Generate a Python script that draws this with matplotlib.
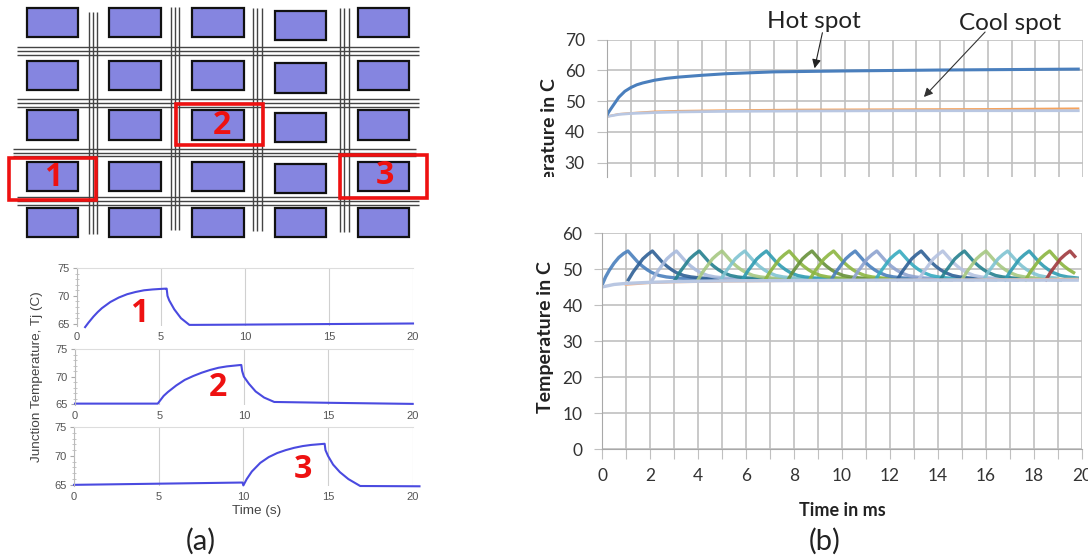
import matplotlib
matplotlib.use('Agg')
import matplotlib.pyplot as plt
from matplotlib.patches import Rectangle
from matplotlib.ticker import MultipleLocator

# (a) junction temperature traces
t1 = [0.5, 0.7, 1, 1.25, 1.5, 2, 2.5, 3, 3.5, 4, 4.5, 5, 5.3, 5.35, 5.4, 5.5, 5.8, 6.2, 6.7, 7, 10, 15, 20]
tj1 = [64.4, 65.2, 66.3, 67.1, 67.8, 68.9, 69.7, 70.3, 70.7, 71, 71.15, 71.25, 71.3, 71.3, 70, 69.2, 67.6, 66, 64.8, 64.8, 64.85, 64.95, 65.05]
t2 = [0, 4.9, 5, 5.25, 5.5, 6, 6.5, 7, 7.5, 8, 8.5, 9, 9.8, 9.85, 9.9, 10, 10.3, 10.7, 11.2, 11.8, 15, 20]
tj2 = [65.1, 65.1, 65.5, 66.5, 67.2, 68.4, 69.4, 70.1, 70.7, 71.2, 71.6, 71.85, 72.1, 72.1, 71, 70, 68.7, 67.3, 66.2, 65.4, 65.25, 65.05]
t3 = [0, 5, 9.95, 10, 10.2, 10.5, 11, 11.5, 12, 12.5, 13, 13.5, 14, 14.8, 14.85, 15, 15.3, 15.7, 16.2, 16.9, 20.4]
tj3 = [65, 65.2, 65.4, 64.9, 66, 67.3, 68.8, 69.8, 70.5, 71, 71.4, 71.7, 71.9, 72.1, 71, 70, 68.5, 67.2, 66, 64.8, 64.75]

# (b) top chart
t_top = [0, 0.1, 0.25, 0.5, 0.75, 1, 1.25, 1.5, 2, 2.5, 3, 4, 5, 7, 10, 14, 19.8]
hot_spot = [45.5, 46.8, 48.5, 51.3, 53.2, 54.4, 55.3, 55.9, 56.8, 57.4, 57.8, 58.4, 58.9, 59.5, 59.8, 60.1, 60.4]
t_cool = [0, 0.5, 1, 2, 3, 5, 8, 12, 16, 19.8]
cool_orange = [45, 45.8, 46.1, 46.6, 46.8, 47, 47.2, 47.3, 47.4, 47.6]
cool_lav = [45, 45.7, 46, 46.3, 46.5, 46.7, 46.8, 46.9, 46.9, 46.9]

# (b) bottom chart, the same pulse repeats at each peak time
peak_times = [1.08, 2.1, 3.1, 4.05, 5.0, 5.95, 6.85, 7.8, 8.75, 9.65, 10.55,
              11.45, 12.4, 13.3, 14.2, 15.1, 16.0, 16.9, 17.8, 18.65, 19.5]
pulse_dt = [-1.0, -0.8, -0.6, -0.4, -0.2, 0, 0.2, 0.4, 0.6, 0.8, 1, 1.3, 1.6, 2, 3, 4, 20]
pulse_temp = [47, 49.2, 51, 52.8, 54, 55, 53.5, 52, 50.8, 49.8, 49, 48.2, 47.8, 47.5, 47.2, 47, 47]
first_rise_t = [0, 0.15, 0.3, 0.5, 0.7, 0.9]
first_rise_temp = [45.5, 47.8, 49.6, 51.6, 53.2, 54.3]
pulse_colors = ['#4a80bd', '#2f6096', '#a9bbdd', '#24808f', '#a6c882', '#80c4d2', '#2f9cb2',
                '#8bb540', '#67913a', '#8db641', '#4a80bd', '#8ea3d0', '#37abc0', '#2f6096',
                '#b5c2e0', '#26818f', '#a6c882', '#80c4d2', '#2f9cb2', '#8bb540', '#a03a3e']

# schematic layout (a)
cols = [(26.7, 77.7), (109, 160.7), (192, 243.7), (275, 326), (358, 409)]
rows = [(8, 37), (61, 90), (110, 140), (162, 191), (208, 237)]
rows_col4 = [(11, 40), (63, 93), (113, 142), (164, 193), (208, 237)]
wires_v = [(88.5, 92.5, 96.5, 12, 234), (171, 175, 179, 7, 230), (253, 257, 262, 8, 231), (340, 344, 349, 8, 232)]
wires_h = [(47, 51, 54.5, 17, 419), (99, 103, 107, 17, 419), (149, 153, 156, 13, 416), (197, 201, 205, 17, 419)]
red_boxes = [(9, 158, 96, 200), (176, 104, 263, 145), (340, 155, 427, 198)]
red_labels = [('1', 53, 177), ('2', 222, 125), ('3', 385, 176)]

W, H = 1088, 559
fig = plt.figure(figsize=(W / 100, H / 100), dpi=100)
plt.rcParams['font.family'] = ['Lato', 'DejaVu Sans']


def add_px(left, top, right, bottom):
    return fig.add_axes([left / W, 1 - bottom / H, (right - left) / W, (bottom - top) / H])


bg = fig.add_axes([0, 0, 1, 1])
bg.set_xlim(0, W)
bg.set_ylim(H, 0)
bg.axis('off')

for c, (x0, x1) in enumerate(cols):
    for (y0, y1) in (rows_col4 if c == 3 else rows):
        bg.add_patch(Rectangle((x0, y0), x1 - x0, y1 - y0, fc='#8585e0', ec='#111111', lw=1.6, zorder=3))
for a, b, c, y0, y1 in wires_v:
    bg.vlines([a, b, c], y0, y1, color='#444444', lw=1.0, zorder=2)
for a, b, c, x0, x1 in wires_h:
    bg.hlines([a, b, c], x0, x1, color='#444444', lw=1.0, zorder=2)
for x0, y0, x1, y1 in red_boxes:
    bg.add_patch(Rectangle((x0, y0), x1 - x0, y1 - y0, fc='none', ec='#ee1111', lw=2.6, zorder=4))
for s, x, y in red_labels:
    bg.text(x, y, s, color='#ee1111', fontsize=23, fontweight='bold', ha='center', va='center',
            family=['Open Sans', 'DejaVu Sans'], zorder=5)

# small traces
panels = [((76.7, 268, 413, 326), t1, tj1, 64.6, '1', (139, 313)),
          ((75, 349, 412.7, 405), t2, tj2, 64.85, '2', (218, 388)),
          ((74, 427, 412.7, 486), t3, tj3, 64.8, '3', (303, 469))]
for (l, t, r, b), xs, ys, ymin, s, (lx, ly) in panels:
    ax = add_px(l, t, r, b)
    ax.patch.set_alpha(0)
    ax.plot(xs, ys, color='#4a4ae0', lw=1.5, clip_on=False)
    ax.set_xlim(0, 20)
    ax.set_ylim(ymin, 75)
    ax.set_xticks([0, 5, 10, 15, 20])
    ax.set_yticks([65, 70, 75])
    ax.yaxis.set_minor_locator(MultipleLocator(1))
    ax.grid(axis='x', color='#d0d0d0', lw=0.8)
    ax.tick_params(axis='x', length=0, labelsize=8, labelcolor='#555555', pad=4)
    ax.tick_params(axis='y', which='major', length=3, color='#aaaaaa', labelsize=8, labelcolor='#555555', pad=2)
    ax.tick_params(axis='y', which='minor', length=3, color='#bbbbbb', direction='inout')
    for lab in ax.get_xticklabels() + ax.get_yticklabels():
        lab.set_family(['Liberation Sans'])
    for name in ['right', 'bottom']:
        ax.spines[name].set_visible(False)
    ax.spines['left'].set_color('#bbbbbb')
    ax.spines['top'].set_color('#dddddd')
    bg.text(lx, ly, s, color='#ee1111', fontsize=23, fontweight='bold', ha='center', va='center',
            family=['Open Sans', 'DejaVu Sans'], zorder=5)

bg.text(37, 377, 'Junction Temperature, Tj (C)', rotation=90, color='#444444', fontsize=9.7,
        ha='center', va='center', family=['Liberation Sans'])
bg.text(257, 511, 'Time (s)', color='#444444', fontsize=9.7, ha='center', va='center', family=['Liberation Sans'])
bg.text(201, 541, '(a)', color='#222222', fontsize=21, ha='center', va='center')
bg.text(825, 541, '(b)', color='#222222', fontsize=21, ha='center', va='center')

# top chart
grid_grey = '#c0c0c0'
axis_grey = '#a8a8a8'
top = add_px(607, 39.5, 1083, 177)
top.patch.set_alpha(0)
top.plot(t_cool, cool_orange, color='#f5a35c', lw=1.6)
top.plot(t_cool, cool_lav, color='#b9c7e2', lw=2)
top.plot(t_top, hot_spot, color='#4a7fbd', lw=2.2)
top.set_xlim(0, 20)
top.set_ylim(25.4, 70)
top.set_xticks(range(0, 21))
top.set_yticks([30, 40, 50, 60, 70])
top.grid(color=grid_grey, lw=1.2)
top.set_axisbelow(True)
top.tick_params(axis='x', length=0, labelbottom=False)
top.tick_params(axis='y', length=7, color=grid_grey, labelsize=12.5, labelcolor='#333333', pad=9)
for name in ['right', 'bottom', 'top']:
    top.spines[name].set_visible(False)
top.spines['left'].set_color(axis_grey)

# bottom chart
low = add_px(602, 233, 1082, 449)
low.patch.set_alpha(0)
end_t = 19.8
for i, (pk, col) in enumerate(zip(peak_times, pulse_colors)):
    if i == 0:
        xs = first_rise_t + [pk + d for d in pulse_dt if d >= 0]
        ys = first_rise_temp + [v for d, v in zip(pulse_dt, pulse_temp) if d >= 0]
    else:
        xs = [pk + d for d in pulse_dt]
        ys = list(pulse_temp)
    keep = [(x, y) for x, y in zip(xs, ys) if x <= end_t]
    low.plot([p[0] for p in keep], [p[1] for p in keep], color=col, lw=2.4, alpha=0.9)
low.plot(t_cool[2:], [v - 0.4 for v in cool_orange[2:]], color='#f7b58a', lw=2)
low.plot(t_cool, cool_lav, color='#b9c7e2', lw=2.4)
low.set_xlim(0, 20)
low.set_ylim(0, 60)
low.set_xticks(range(0, 21))
low.set_xticklabels([str(v) if v % 2 == 0 else '' for v in range(0, 21)])
low.set_yticks(range(0, 61, 10))
low.grid(color=grid_grey, lw=1.2)
low.set_axisbelow(True)
low.tick_params(axis='x', length=7, color=grid_grey, labelsize=12.5, labelcolor='#333333', pad=7)
low.tick_params(axis='y', length=6, color=grid_grey, labelsize=12.5, labelcolor='#333333', pad=8)
for name in ['right', 'top']:
    low.spines[name].set_visible(False)
low.spines['left'].set_color(axis_grey)
low.spines['bottom'].set_color(axis_grey)

bg.text(546, 337, 'Temperature in C', rotation=90, fontsize=14, fontweight='bold', color='#222222',
        ha='center', va='center')
bg.text(842, 511, 'Time in ms', fontsize=13, fontweight='bold', color='#222222', ha='center', va='center')
cut = bg.text(550, 154, 'Temperature in C', rotation=90, fontsize=14, fontweight='bold', color='#222222',
              ha='center', va='center')
cut.set_clip_on(True)
cut.set_clip_path(Rectangle((530, 60), 40, 117, transform=bg.transData))

bg.text(814, 22, 'Hot spot', fontsize=17.5, color='#222222', ha='center', va='center')
bg.text(1010, 23, 'Cool spot', fontsize=17.5, color='#222222', ha='center', va='center')
arrow_bg = fig.add_axes([0, 0, 1, 1])
arrow_bg.set_xlim(0, W)
arrow_bg.set_ylim(H, 0)
arrow_bg.axis('off')
arrow_bg.annotate('', xy=(814, 71), xytext=(823, 30),
                  arrowprops=dict(arrowstyle='-|>', color='#222222', lw=0.8, mutation_scale=13))
arrow_bg.annotate('', xy=(922, 99), xytext=(987, 30),
                  arrowprops=dict(arrowstyle='-|>', color='#333333', lw=0.8, mutation_scale=13))

fig.savefig('out.png', dpi=100)
